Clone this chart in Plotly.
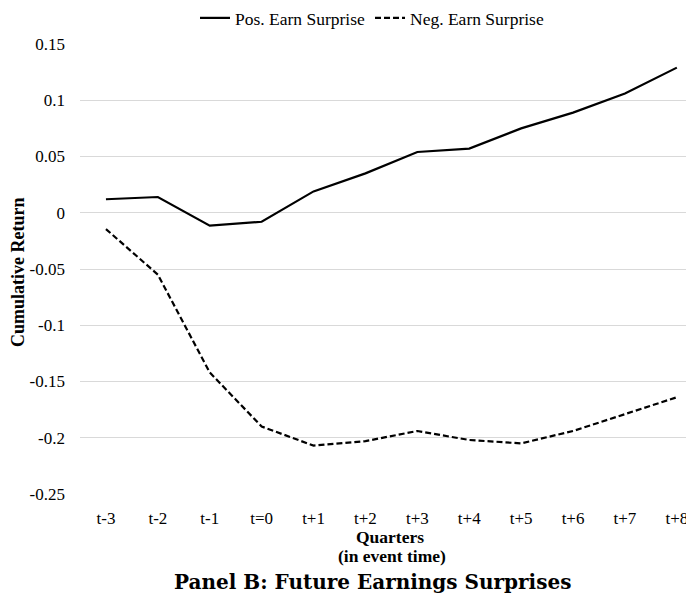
import plotly.graph_objects as go

quarters = ["t-3", "t-2", "t-1", "t=0", "t+1", "t+2", "t+3", "t+4", "t+5", "t+6", "t+7", "t+8"]
pos_surprise = [0.012, 0.014, -0.0115, -0.008, 0.019, 0.035, 0.054, 0.057, 0.075, 0.089, 0.106, 0.129]
neg_surprise = [-0.0145, -0.055, -0.142, -0.19, -0.207, -0.203, -0.194, -0.202, -0.205, -0.194, -0.179, -0.164]
y_tick_vals = [0.15, 0.1, 0.05, 0, -0.05, -0.1, -0.15, -0.2, -0.25]
y_tick_text = ["0.15", "0.1", "0.05", "0", "-0.05", "-0.1", "-0.15", "-0.2", "-0.25"]

# the page body has an 8px margin, so the figure is drawn 8px in from the top-left
OFF = 8
W, H = 694 - OFF, 594 - OFF
L, R, T, B = 80 - OFF, 0, 44 - OFF, 100
pw = W - L - R
ph = H - T - B

serif = "Liberation Serif, Times New Roman, serif"


def py(ypix):
    return (H - B - (ypix - OFF)) / ph


def px(xpix):
    return ((xpix - OFF) - L) / pw


fig = go.Figure()
fig.add_trace(go.Scatter(x=quarters, y=pos_surprise, mode="lines", name="Pos. Earn Surprise",
                         line=dict(color="black", width=2.2)))
fig.add_trace(go.Scatter(x=quarters, y=neg_surprise, mode="lines", name="Neg. Earn Surprise",
                         line=dict(color="black", width=2.2, dash="6px,3px")))

fig.update_layout(
    width=W, height=H,
    margin=dict(l=L, r=R, t=T, b=B, pad=0, autoexpand=False),
    paper_bgcolor="white", plot_bgcolor="white",
    font=dict(family=serif, size=16, color="black"),
    showlegend=True,
    legend=dict(orientation="h", xref="paper", yref="paper",
                x=px(372), xanchor="center", y=py(18), yanchor="middle",
                font=dict(family=serif, size=17.5, color="black"),
                itemwidth=30, tracegroupgap=0, bgcolor="rgba(0,0,0,0)"),
    xaxis=dict(type="category", range=[-0.5, -0.5 + pw / 51.9], showgrid=False,
               zeroline=False, showline=False, ticks="", ticklabelstandoff=12,
               automargin=False,
               tickfont=dict(family=serif, size=17, color="black")),
    yaxis=dict(range=[-0.25, 0.15], tickvals=y_tick_vals, ticktext=y_tick_text,
               showgrid=True, gridcolor="#d9d9d9", gridwidth=1, zeroline=False,
               showline=False, ticks="", ticklabelstandoff=14, automargin=False,
               tickfont=dict(family=serif, size=17, color="black")),
    annotations=[
        dict(text="<b>Cumulative Return</b>", textangle=-90, xref="paper", yref="paper",
             x=px(18), y=py(272), xanchor="center", yanchor="middle", showarrow=False,
             font=dict(family=serif, size=18, color="black")),
        dict(text="<b>Quarters</b>", xref="paper", yref="paper",
             x=px(390), y=py(537), xanchor="center", yanchor="middle",
             showarrow=False, font=dict(family=serif, size=17.5, color="black")),
        dict(text="<b>(in event time)</b>", xref="paper", yref="paper",
             x=px(392), y=py(556), xanchor="center", yanchor="middle",
             showarrow=False, font=dict(family=serif, size=17.5, color="black")),
        dict(text="<b>Panel B: Future Earnings Surprises</b>", xref="paper", yref="paper",
             x=px(372), y=py(582), xanchor="center", yanchor="middle",
             showarrow=False, font=dict(family="DejaVu Serif, serif", size=20, color="black")),
    ],
)

fig.write_html("out.html")
